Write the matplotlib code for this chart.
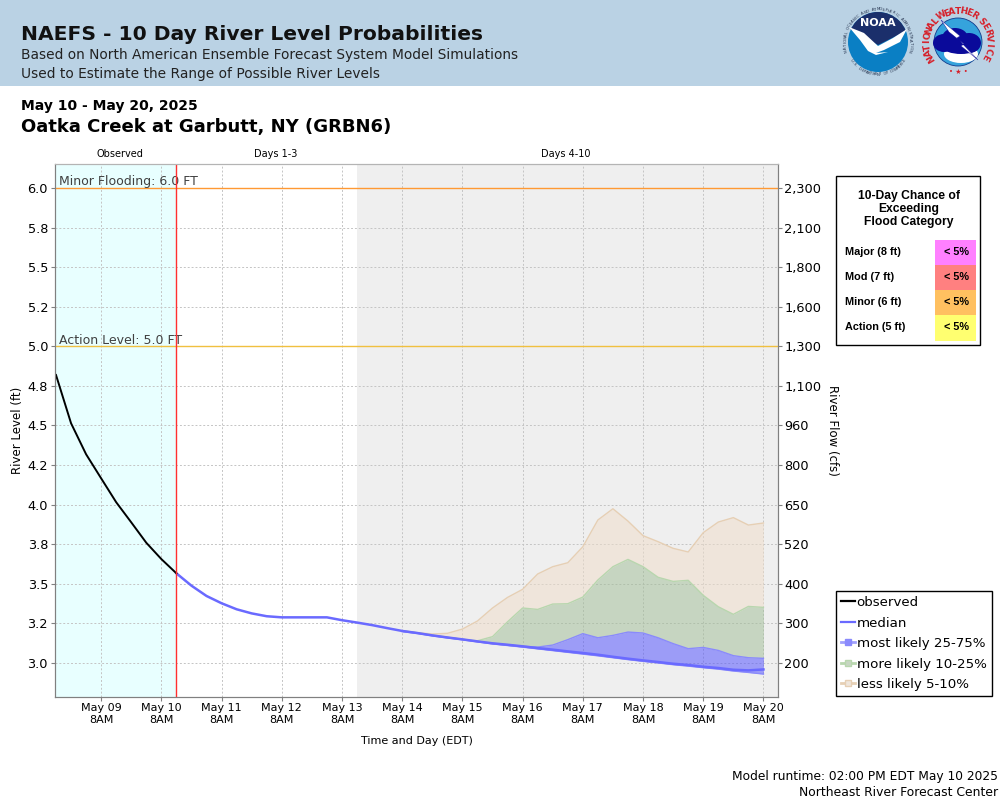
#!/usr/bin/env python3
"""NAEFS 10 day river level probabilities, Oatka Creek at Garbutt NY."""
import matplotlib
matplotlib.use("Agg")
import matplotlib.pyplot as plt
from matplotlib.lines import Line2D
from matplotlib.patches import Circle, Ellipse, Polygon, Rectangle
import numpy as np
import pandas as pd

W, H = 1000, 800

# observed every 6 h, May 8 14:00 up to forecast start
observed = [4.819, 4.514, 4.318, 4.166, 4.015, 3.888, 3.759, 3.656, 3.566]

# forecast every 6 h, May 10 14:00 to May 20 08:00
median = [3.566, 3.488, 3.423, 3.377, 3.339, 3.313, 3.295, 3.288, 3.288, 3.288,
          3.288, 3.270, 3.255, 3.239, 3.220,
          3.202, 3.189, 3.174, 3.161, 3.149, 3.136, 3.124, 3.115, 3.105, 3.094,
          3.084, 3.073, 3.063, 3.052, 3.039, 3.027, 3.016, 3.006, 2.995, 2.987,
          2.976, 2.968, 2.957, 2.953, 2.959]

# bands from May 14 08:00 on (they sit on the median before that)
band_low = [3.198, 3.186, 3.171, 3.158, 3.146, 3.133, 3.120, 3.110, 3.100, 3.089,
            3.078, 3.067, 3.056, 3.045, 3.033, 3.021, 3.010, 3.000, 2.989, 2.980,
            2.970, 2.961, 2.949, 2.940, 2.930]
top_75 = [3.202, 3.189, 3.174, 3.161, 3.149, 3.136, 3.124, 3.115, 3.105, 3.100,
          3.113, 3.147, 3.185, 3.159, 3.174, 3.195, 3.189, 3.159, 3.122, 3.090,
          3.098, 3.079, 3.046, 3.033, 3.029]
top_90 = [3.204, 3.191, 3.176, 3.163, 3.149, 3.140, 3.166, 3.260, 3.347, 3.338,
          3.372, 3.374, 3.416, 3.524, 3.608, 3.654, 3.608, 3.541, 3.515, 3.522,
          3.427, 3.355, 3.307, 3.357, 3.351]
top_95 = [3.204, 3.191, 3.183, 3.187, 3.214, 3.265, 3.347, 3.414, 3.465, 3.562,
          3.608, 3.633, 3.734, 3.903, 3.974, 3.896, 3.804, 3.766, 3.724, 3.701,
          3.823, 3.890, 3.918, 3.871, 3.884]

stage_ticks = [3.0, 3.25, 3.5, 3.75, 4.0, 4.25, 4.5, 4.75, 5.0, 5.25, 5.5, 5.75, 6.0]
stage_labels = ["3.0", "3.2", "3.5", "3.8", "4.0", "4.2", "4.5", "4.8", "5.0", "5.2",
                "5.5", "5.8", "6.0"]
flow_labels = ["200", "300", "400", "520", "650", "800", "960", "1,100", "1,300",
               "1,600", "1,800", "2,100", "2,300"]

categories = ["Major (8 ft)", "Mod (7 ft)", "Minor (6 ft)", "Action (5 ft)"]
chances = ["< 5%", "< 5%", "< 5%", "< 5%"]
category_colors = ["#ff80ff", "#ff8080", "#ffc060", "#ffff70"]

BLUE_LINE = "#6a6aff"
BLUE_FILL = "#4b4bff"
GREEN_FILL = "#9fbd95"
TAN_FILL = "#efddc9"
GRID = "#c4c4c4"
RED = "#d6202a"


def circle_text(page, text, cx, cy, r, start, end, bottom=False, **kw):
    """Letters one by one along an arc, angles in degrees, y axis pointing down."""
    for ch, a in zip(text, np.linspace(start, end, len(text))):
        t = np.radians(a)
        rot = -(a - 90) if bottom else -(a + 90)
        page.text(cx + r * np.cos(t), cy + r * np.sin(t), ch, rotation=rot,
                  ha="center", va="center", rotation_mode="anchor", **kw)


def draw_noaa(page, cx, cy):
    page.add_patch(Circle((cx, cy), 30, fc="#0a7fc4", ec="none"))
    top = Polygon([(cx - 30, cy - 30), (cx + 30, cy - 30), (cx + 30, cy - 12), (cx, cy + 3),
                   (cx - 30, cy - 14)], fc="#1b2f6b", ec="none")
    page.add_patch(top)
    top.set_clip_path(Circle((cx, cy), 30, transform=page.transData))
    page.add_patch(Polygon([(cx - 29, cy - 15), (cx - 14, cy - 9), (cx, cy + 4), (cx + 15, cy - 4),
                            (cx + 29, cy - 13), (cx + 22, cy), (cx + 6, cy + 8), (cx - 2, cy + 11),
                            (cx + 10, cy + 10), (cx - 2, cy + 13), (cx - 10, cy + 9),
                            (cx - 18, cy - 2)], fc="white", ec="none"))
    page.text(cx, cy - 19, "NOAA", color="white", fontsize=8, fontweight="bold",
              ha="center", va="center")
    circle_text(page, "NATIONAL OCEANIC AND ATMOSPHERIC ADMINISTRATION", cx, cy, 32.5,
                165, 375, fontsize=2.8, color="#26344f")
    circle_text(page, "U.S. DEPARTMENT OF COMMERCE", cx, cy, 32.5,
                145, 35, bottom=True, fontsize=2.8, color="#26344f")


def draw_nws(page, cx, cy):
    page.add_patch(Circle((cx, cy), 24, fc="#35a3dc", ec="#123a8c", lw=0.6))
    page.add_patch(Ellipse((cx + 3, cy + 12), 34, 18, fc="white", ec="none"))
    for dx, dy, w, h in [(-14, 1, 22, 18), (-3, -4, 26, 20), (11, 1, 24, 20), (3, 5, 36, 14)]:
        page.add_patch(Ellipse((cx + dx, cy + dy), w, h, fc="#0a0a9a", ec="none"))
    page.add_patch(Polygon([(cx - 17, cy - 22), (cx + 2, cy - 6), (cx - 1, cy - 4),
                            (cx + 20, cy + 18), (cx + 3, cy + 4), (cx + 6, cy + 2),
                            (cx - 9, cy - 10)], fc="white", ec="#0a0a9a", lw=0.3))
    circle_text(page, "NATIONAL", cx, cy, 31, 150, 222, fontsize=6.5, fontweight="bold", color=RED)
    circle_text(page, "WEATHER", cx, cy, 31, 238, 302, fontsize=6.5, fontweight="bold", color=RED)
    circle_text(page, "SERVICE", cx, cy, 31, 318, 388, fontsize=6.5, fontweight="bold", color=RED)
    page.text(cx, cy + 30, "• ★ •", color=RED, fontsize=5, ha="center", va="center")


def draw_page(page):
    page.set_xlim(0, W)
    page.set_ylim(H, 0)
    page.axis("off")
    page.add_patch(Rectangle((0, 0), W, 85.5, fc="#bad2e4", ec="none"))
    page.text(21, 40, "NAEFS - 10 Day River Level Probabilities", fontsize=14.6,
              fontweight="bold", color="#111111")
    page.text(21, 59, "Based on North American Ensemble Forecast System Model Simulations",
              fontsize=9.9, color="#222222")
    page.text(21, 78, "Used to Estimate the Range of Possible River Levels", fontsize=9.9,
              color="#222222")
    draw_noaa(page, 878, 42)
    draw_nws(page, 958, 42)

    page.text(21, 110, "May 10 - May 20, 2025", fontsize=10, fontweight="bold")
    page.text(21, 132, "Oatka Creek at Garbutt, NY (GRBN6)", fontsize=13, fontweight="bold")
    for x, label in [(120, "Observed"), (276, "Days 1-3"), (566, "Days 4-10")]:
        page.text(x, 157, label, fontsize=7, ha="center")

    page.text(18, 430, "River Level (ft)", fontsize=8.5, rotation=90, ha="center", va="center")
    page.text(832, 430, "River Flow (cfs)", fontsize=8.5, rotation=270, ha="center", va="center")
    page.text(417, 744, "Time and Day (EDT)", fontsize=8, ha="center")
    page.text(998, 780, "Model runtime: 02:00 PM EDT May 10 2025", fontsize=8.8, ha="right")
    page.text(998, 796, "Northeast River Forecast Center", fontsize=8.9, ha="right")

    # flood category table
    page.add_patch(Rectangle((836, 176), 144, 169, fc="white", ec="black", lw=1))
    for y, line in zip((199, 212, 225), ("10-Day Chance of", "Exceeding", "Flood Category")):
        page.text(909, y, line, family="Liberation Sans", fontsize=8.7, fontweight="bold",
                  ha="center")
    for i, (name, chance, color) in enumerate(zip(categories, chances, category_colors)):
        top = 240 + 25 * i
        page.add_patch(Rectangle((935, top), 41, 25 if i < 3 else 26, fc=color, ec="none"))
        page.text(845, top + 15, name, family="Liberation Sans", fontsize=7.8,
                  fontweight="bold")
        page.text(957, top + 15, chance, family="Liberation Sans", fontsize=7.8,
                  fontweight="bold", ha="center")


def main():
    fig = plt.figure(figsize=(W / 100, H / 100), dpi=100)
    page = fig.add_axes([0, 0, 1, 1], zorder=0)
    draw_page(page)

    ax = fig.add_axes([55 / W, 1 - 696.5 / H, (777.5 - 55) / W, (696.5 - 163.5) / H], zorder=2)
    obs_time = pd.date_range("2025-05-08 14:00", periods=len(observed), freq="6h")
    fc_time = pd.date_range("2025-05-10 14:00", periods=len(median), freq="6h")
    band_time = fc_time[-len(band_low):]
    now = fc_time[0]
    shaded = pd.Timestamp("2025-05-13 14:00")
    left = pd.Timestamp("2025-05-08 13:36")
    end = pd.Timestamp("2025-05-20 13:36")

    ax.axvspan(left, now, color="#e8ffff", lw=0, zorder=0)
    ax.axvspan(shaded, end, color="#efefef", lw=0, zorder=0)

    ax.fill_between(band_time, top_90, top_95, color=TAN_FILL, alpha=0.5, lw=0, zorder=2)
    ax.fill_between(band_time, top_75, top_90, color=GREEN_FILL, alpha=0.5, lw=0, zorder=2)
    ax.fill_between(band_time, band_low, top_75, color=BLUE_FILL, alpha=0.5, lw=0, zorder=2)
    ax.plot(band_time, top_95, color="#e6cfb4", lw=1, zorder=3)
    ax.plot(band_time, top_90, color="#b8d6ae", lw=1, zorder=3)
    ax.plot(band_time, top_75, color="#8a8afc", lw=1, zorder=3)
    ax.plot(band_time, band_low, color="#8a8afc", lw=1, zorder=3)

    ax.axhline(6.0, color="#ff9933", lw=1, zorder=4)
    ax.axhline(5.0, color="#f0c040", lw=1, zorder=4)
    ax.plot(fc_time, median, color=BLUE_LINE, lw=1.8, zorder=5)
    ax.plot(obs_time, observed, color="black", lw=1.4, zorder=6)
    ax.axvline(now, color="#ff3030", lw=1, zorder=7)

    for level, label in [(6.0, "Minor Flooding: 6.0 FT"), (5.0, "Action Level: 5.0 FT")]:
        ax.annotate(label, xy=(left, level), xytext=(3, 2), textcoords="offset points",
                    fontsize=9, color="#404040", zorder=6)

    ax.set_xlim(left, end)
    ax.set_ylim(2.788, 6.155)
    ticks = pd.date_range("2025-05-09 08:00", "2025-05-20 08:00", freq="1D")
    ax.set_xticks(ticks)
    ax.set_xticklabels([t.strftime("%b %d") + "\n8AM" for t in ticks], fontsize=8, linespacing=1.25)
    ax.set_yticks(stage_ticks)
    ax.set_yticklabels(stage_labels, fontsize=9.3)
    ax.grid(True, color=GRID, lw=0.7, ls=(0, (2, 2)), zorder=1)
    ax.set_axisbelow(True)
    ax.tick_params(axis="both", color="#808080", length=3, width=0.8, pad=2)
    ax.tick_params(axis="x", pad=1.5)
    ax.patch.set_facecolor("white")

    right = ax.twinx()
    right.set_ylim(ax.get_ylim())
    right.set_yticks(stage_ticks)
    right.set_yticklabels(flow_labels, fontsize=9.3)
    right.tick_params(axis="y", color="#808080", length=3, width=0.8, pad=2)
    for a in (ax, right):
        a.spines["left"].set_color("#808080")
        a.spines["bottom"].set_color("#808080")
        a.spines["right"].set_color("#808080")
        a.spines["top"].set_color("#b4b4b4")

    handles = [
        Line2D([], [], color="black", lw=1.6),
        Line2D([], [], color=BLUE_LINE, lw=1.6),
        Line2D([], [], color="#a0a0fc", lw=2, marker="s", ms=4.5, mfc="#8a8afc", mec="#8a8afc"),
        Line2D([], [], color="#b8d6ae", lw=2, marker="s", ms=4.5, mfc="#c7d6c2", mec="#b8d6ae"),
        Line2D([], [], color="#e6cfb4", lw=2, marker="s", ms=4.5, mfc="#efe6dc", mec="#e6cfb4"),
    ]
    labels = ["observed", "median", "most likely 25-75%", "more likely 10-25%", "less likely 5-10%"]
    leg = fig.legend(handles, labels, loc="upper left",
                     bbox_to_anchor=(835.5 / W, 1 - 591 / H), fontsize=9.65, frameon=True,
                     fancybox=False, framealpha=1, edgecolor="black", borderpad=0.38,
                     labelspacing=0.56, handlelength=1.05, handletextpad=0.15, borderaxespad=0)
    leg.get_frame().set_linewidth(1)
    leg.set_zorder(10)

    fig.savefig("out.png", dpi=100)
    plt.close(fig)


if __name__ == "__main__":
    main()
